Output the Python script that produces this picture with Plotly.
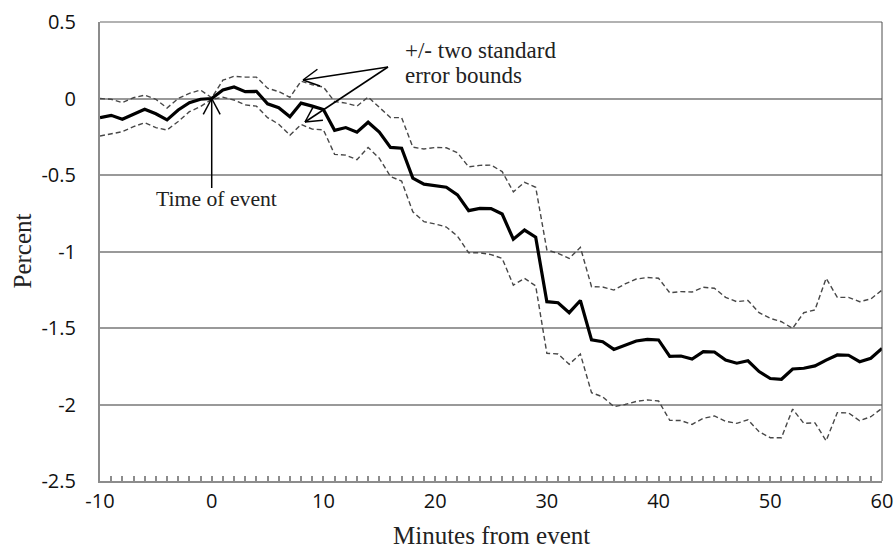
import math
import plotly.graph_objects as go

minutes = list(range(-10, 61))

mean_pct = [
    -0.125, -0.11, -0.135, -0.10, -0.07, -0.10, -0.14, -0.075, -0.027, -0.005,
    0.0, 0.055, 0.075, 0.045, 0.047, -0.035, -0.06, -0.12, -0.03, -0.05,
    -0.072, -0.208, -0.19, -0.22, -0.155, -0.22, -0.32, -0.325, -0.52, -0.56,
    -0.57, -0.58, -0.63, -0.733, -0.718, -0.72, -0.755, -0.92, -0.86, -0.907,
    -1.328, -1.335, -1.40, -1.32, -1.578, -1.59, -1.64, -1.61, -1.585, -1.574,
    -1.578, -1.685, -1.683, -1.703, -1.655, -1.657, -1.71, -1.73, -1.714, -1.785,
    -1.83, -1.835, -1.768, -1.763, -1.748, -1.71, -1.676, -1.678, -1.72, -1.698,
    -1.633,
]

upper_pct = [
    0.0, -0.005, -0.027, 0.005, 0.022, -0.005, -0.062, 0.0, 0.034, 0.055,
    0.005, 0.12, 0.145, 0.14, 0.14, 0.067, 0.045, 0.008, 0.113, 0.09,
    0.075, -0.02, -0.03, -0.05, 0.01, -0.06, -0.125, -0.125, -0.318, -0.33,
    -0.32, -0.322, -0.355, -0.447, -0.437, -0.435, -0.478, -0.61, -0.548, -0.58,
    -0.99, -1.012, -1.045, -0.973, -1.23, -1.232, -1.252, -1.212, -1.18, -1.17,
    -1.175, -1.27, -1.262, -1.265, -1.234, -1.24, -1.30, -1.328, -1.32, -1.40,
    -1.437, -1.459, -1.502, -1.40, -1.382, -1.175, -1.30, -1.30, -1.328, -1.31,
    -1.252,
]

lower_pct = [
    -0.245, -0.232, -0.217, -0.184, -0.158, -0.19, -0.206, -0.15, -0.086, -0.053,
    -0.005, 0.008, -0.01, -0.042, -0.05, -0.125, -0.168, -0.24, -0.17, -0.2,
    -0.205, -0.365, -0.37, -0.40, -0.32, -0.39, -0.51, -0.54, -0.74, -0.805,
    -0.82, -0.84, -0.90, -1.008, -1.008, -1.02, -1.045, -1.22, -1.175, -1.225,
    -1.665, -1.67, -1.737, -1.67, -1.923, -1.95, -2.014, -2.0, -1.98, -1.97,
    -1.977, -2.103, -2.105, -2.13, -2.09, -2.075, -2.11, -2.123, -2.1, -2.178,
    -2.217, -2.217, -2.03, -2.123, -2.12, -2.237, -2.053, -2.055, -2.106, -2.08,
    -2.025,
]

x_tickvals = [-10, 0, 10, 20, 30, 40, 50, 60]
x_ticktext = ["-10", "0", "10", "20", "30", "40", "50", "60"]
y_tickvals = [0.5, 0, -0.5, -1, -1.5, -2, -2.5]
y_ticktext = ["0.5", "0", "-0.5", "-1", "-1.5", "-2", "-2.5"]

# ticks every minute, labels only at the labelled values
label_of = dict(zip(x_tickvals, x_ticktext))
all_tickvals = minutes
all_ticktext = [label_of.get(m, "") for m in minutes]

W, H = 896, 548
ML, MR, MT, MB = 100, 14, 22, 67
XMIN, XMAX = -10, 60
YMIN, YMAX = -2.5, 0.5
PW = W - ML - MR
PH = H - MT - MB


def px2data(px, py):
    return (XMIN + (px - ML) / PW * (XMAX - XMIN),
            YMAX - (py - MT) / PH * (YMAX - YMIN))


def data2px(x, y):
    return (ML + (x - XMIN) / (XMAX - XMIN) * PW,
            MT + (YMAX - y) / (YMAX - YMIN) * PH)


shapes = []


def seg(p0, p1, width=1.5, color="black"):
    x0, y0 = px2data(*p0)
    x1, y1 = px2data(*p1)
    shapes.append(dict(type="line", xref="x", yref="y", x0=x0, y0=y0, x1=x1, y1=y1,
                       line=dict(color=color, width=width), layer="above"))


def arrow(tail, tip, head_len=18, head_ang=28):
    seg(tail, tip)
    dx, dy = tail[0] - tip[0], tail[1] - tip[1]
    ang = math.atan2(dy, dx)
    for s in (-1, 1):
        a = ang + s * math.radians(head_ang)
        seg(tip, (tip[0] + head_len * math.cos(a), tip[1] + head_len * math.sin(a)))


# annotation arrows
arrow((388, 67), (303, 80))
arrow((388, 67), (305, 122))
ev_tip = data2px(0, 0)
arrow((ev_tip[0], 188), ev_tip)

# top gridline at the upper range edge and right border of plot area
shapes.append(dict(type="line", xref="paper", yref="paper", x0=0, x1=1, y0=1, y1=1,
                   line=dict(color="#999999", width=1.5), layer="below"))
shapes.append(dict(type="line", xref="paper", yref="paper", x0=1, x1=1, y0=0, y1=1,
                   line=dict(color="#4d4d4d", width=1)))

fig = go.Figure()
fig.add_trace(go.Scatter(x=minutes, y=upper_pct, mode="lines",
                         line=dict(color="#474747", width=1.4, dash="5px,3px"),
                         showlegend=False, hoverinfo="skip"))
fig.add_trace(go.Scatter(x=minutes, y=lower_pct, mode="lines",
                         line=dict(color="#474747", width=1.4, dash="5px,3px"),
                         showlegend=False, hoverinfo="skip"))
fig.add_trace(go.Scatter(x=minutes, y=mean_pct, mode="lines",
                         line=dict(color="black", width=3.2),
                         showlegend=False))

serif = "Liberation Serif"
sans = "Open Sans"

annotations = []
tx, ty = px2data(403, 50)
annotations.append(dict(x=tx, y=ty, xref="x", yref="y", text="+/- two standard",
                        showarrow=False, xanchor="left", yanchor="middle",
                        font=dict(family=serif, size=23, color="#222")))
tx, ty = px2data(403, 75)
annotations.append(dict(x=tx, y=ty, xref="x", yref="y", text="error bounds",
                        showarrow=False, xanchor="left", yanchor="middle",
                        font=dict(family=serif, size=23, color="#222")))
tx, ty = px2data(216, 199)
annotations.append(dict(x=tx, y=ty, xref="x", yref="y", text="Time of event",
                        showarrow=False, xanchor="center", yanchor="middle",
                        font=dict(family=serif, size=21.7, color="#222")))
annotations.append(dict(x=0.5, y=0, xref="paper", yref="paper", text="Minutes from event",
                        showarrow=False, xanchor="center", yanchor="middle",
                        yshift=-54, font=dict(family=serif, size=25, color="#222")))
annotations.append(dict(x=0, y=-1, xref="paper", yref="y", text="Percent",
                        showarrow=False, xanchor="center", yanchor="middle",
                        xshift=-78, textangle=-90,
                        font=dict(family=serif, size=25, color="#222")))

fig.update_layout(
    width=W, height=H,
    margin=dict(l=ML, r=MR, t=MT, b=MB, pad=0, autoexpand=False),
    paper_bgcolor="white", plot_bgcolor="white",
    shapes=shapes, annotations=annotations,
    xaxis=dict(range=[XMIN, XMAX], tickmode="array",
               tickvals=all_tickvals, ticktext=all_ticktext,
               showgrid=False, zeroline=False, automargin=False,
               showline=True, linecolor="#8c8c8c", linewidth=2,
               ticks="inside", ticklen=5, tickcolor="#8c8c8c", tickwidth=1.5,
               tickfont=dict(family=sans, size=20, color="#111"),
               ticklabelstandoff=1),
    yaxis=dict(range=[YMIN, YMAX], tickvals=y_tickvals, ticktext=y_ticktext,
               showgrid=True, gridcolor="#999999", gridwidth=1.5, zeroline=False,
               automargin=False,
               showline=True, linecolor="#8c8c8c", linewidth=2,
               ticks="", tickfont=dict(family=sans, size=20, color="#111"),
               ticklabelstandoff=18),
)

fig.write_html("out.html", config={"displayModeBar": False},
               post_script="document.body.style.margin='0';document.body.style.overflow='hidden';")
